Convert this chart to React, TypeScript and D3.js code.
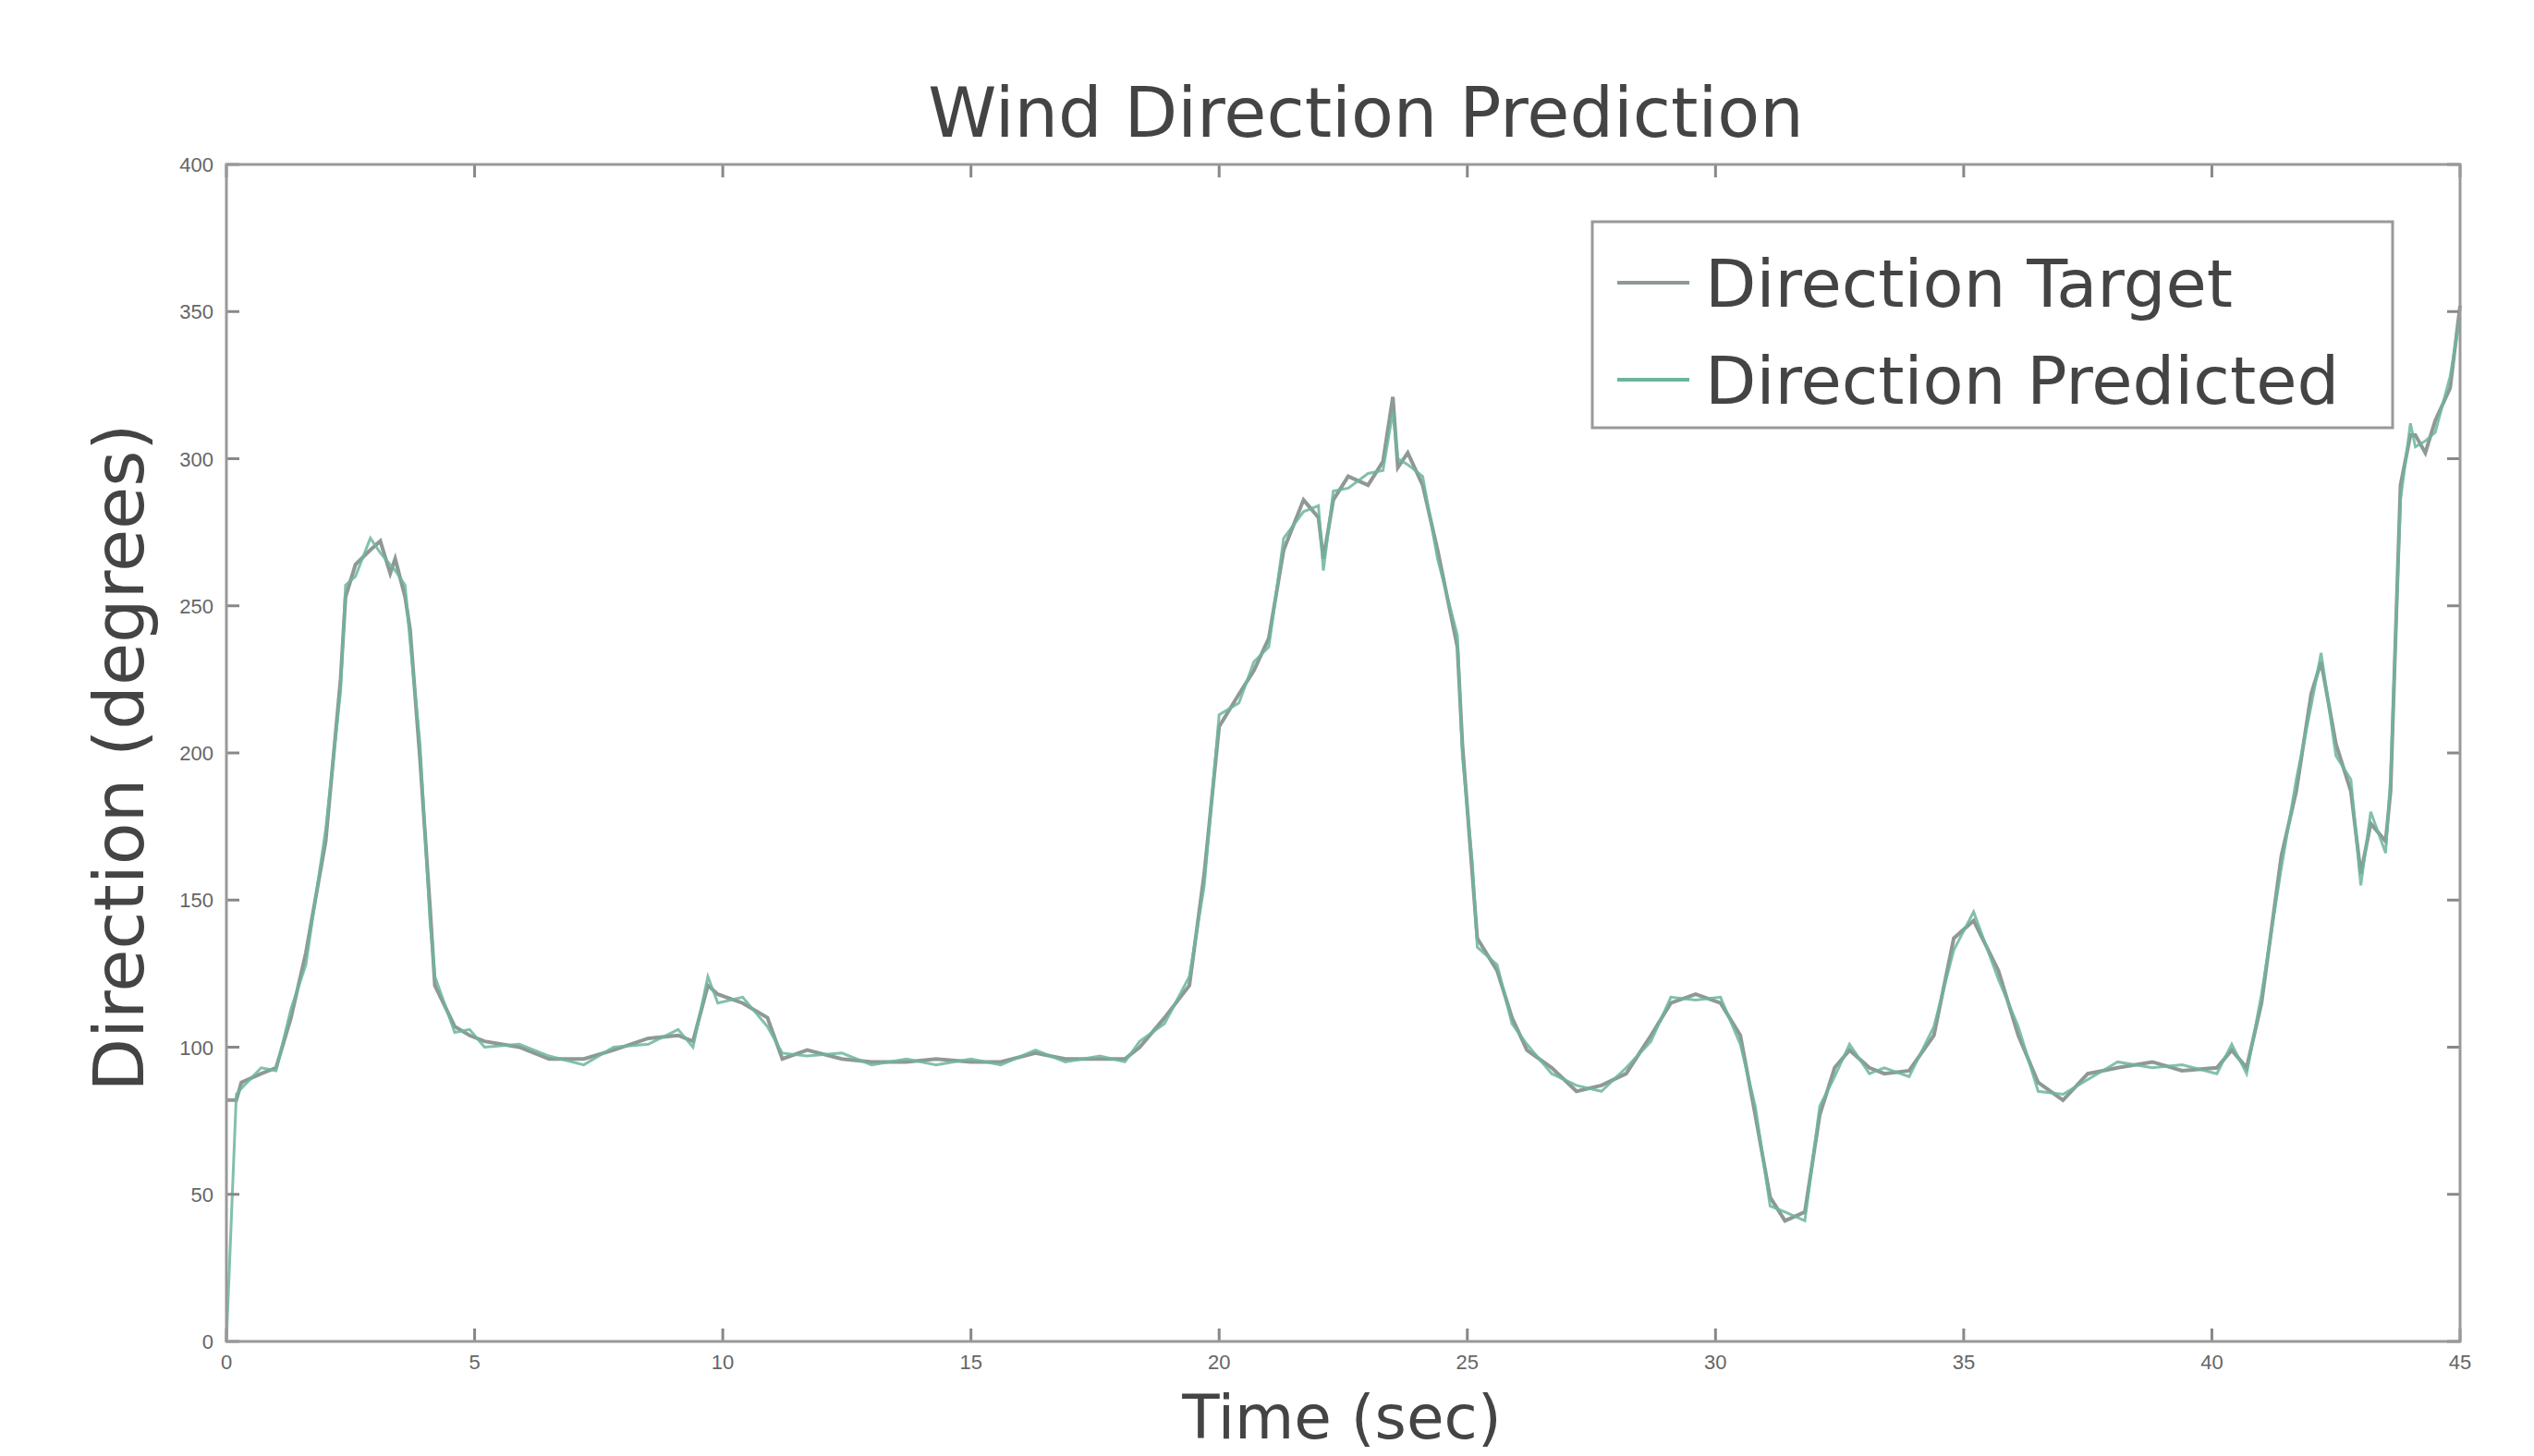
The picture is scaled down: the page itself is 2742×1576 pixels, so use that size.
import React from "react";
import * as d3 from "d3";

const times = [
  0, 0.2, 0.3, 0.7, 1.0, 1.3, 1.6, 2.0, 2.3, 2.4, 2.6, 2.9, 3.1, 3.3, 3.4, 3.6, 3.7, 3.9, 4.1, 4.2,
  4.6, 4.9, 5.2, 5.9, 6.5, 7.2, 7.8, 8.5, 9.1, 9.4, 9.7, 9.9, 10.4, 10.9, 11.2, 11.7, 12.4, 13.0,
  13.7, 14.3, 15.0, 15.6, 16.3, 16.9, 17.6, 18.1, 18.4, 18.9, 19.4, 19.7, 20.0, 20.4, 20.7, 21.0,
  21.3, 21.7, 22.0, 22.1, 22.3, 22.6, 23.0, 23.3, 23.5, 23.6, 23.8, 24.1, 24.4, 24.8, 24.9, 25.1,
  25.2, 25.6, 25.9, 26.2, 26.7, 27.2, 27.7, 28.2, 28.7, 29.1, 29.6, 30.1, 30.5, 30.8, 31.1, 31.4,
  31.8, 32.1, 32.4, 32.7, 33.1, 33.4, 33.9, 34.4, 34.8, 35.2, 35.7, 36.1, 36.5, 37.0, 37.5, 38.1,
  38.8, 39.4, 40.1, 40.4, 40.7, 41.0, 41.4, 41.7, 42.0, 42.2, 42.5, 42.8, 43.0, 43.2, 43.5, 43.6,
  43.8, 44.0, 44.1, 44.3, 44.5, 44.8, 45.0,
];

const target = [
  82, 82, 88, 91, 93, 110, 132, 170, 225, 253, 264, 269, 272, 261, 266, 253, 242, 198, 148, 121,
  107, 104, 102, 100, 96, 96, 99, 103, 104, 102, 121, 118, 115, 110, 96, 99, 96, 95,
  95, 96, 95, 95, 98, 96, 96, 96, 100, 110, 121, 159, 209, 220, 228, 239,
  269, 286, 280, 266, 286, 294, 291, 299, 321, 297, 302, 291, 269, 236, 203, 159,
  137, 126, 110, 99, 93, 85, 87, 91, 104, 115, 118, 115, 104, 77, 49, 41,
  44, 77, 93, 99, 93, 91, 92, 104, 137, 143, 126, 104, 88, 82, 91, 93,
  95, 92, 93, 99, 93, 115, 165, 187, 220, 231, 203, 187, 159, 176, 170, 187,
  291, 308, 308, 302, 313, 324, 352,
];

const predicted = [
  0, 84, 86, 93, 92, 113, 128, 174, 221, 257, 260, 273, 268, 264, 262, 257, 238, 203, 143, 124,
  105, 106, 100, 101, 97, 94, 100, 101, 106, 100, 124, 115, 117, 107, 98, 97, 98, 94,
  96, 94, 96, 94, 99, 95, 97, 95, 102, 108, 124, 155, 213, 217, 231, 236,
  273, 282, 284, 262, 289, 290, 295, 296, 316, 300, 298, 294, 266, 240, 199, 163,
  134, 128, 108, 101, 91, 87, 85, 93, 102, 117, 116, 117, 101, 80, 46, 44,
  41, 80, 90, 101, 91, 93, 90, 107, 133, 146, 123, 107, 85, 84, 89, 95,
  93, 94, 91, 101, 91, 118, 161, 191, 216, 234, 199, 191, 155, 180, 166, 192,
  286, 312, 304, 306, 309, 328, 348,
];

const xTicks = [0, 5, 10, 15, 20, 25, 30, 35, 40, 45];
const yTicks = [0, 50, 100, 150, 200, 250, 300, 350, 400];

const seriesNames = ["Direction Target", "Direction Predicted"];
const seriesColors = ["#8e9995", "#6cb59b"];

const W = 2742;
const H = 1576;
const margin = { left: 245, right: 80, top: 178, bottom: 124 };
const font = "'DejaVu Sans', Verdana, sans-serif";
const smallFont = "'Liberation Sans', Arial, sans-serif";

export default function App() {
  const x = d3.scaleLinear().domain([0, 45]).range([margin.left, W - margin.right]);
  const y = d3.scaleLinear().domain([0, 400]).range([H - margin.bottom, margin.top]);

  const line = d3
    .line<number>()
    .x((_, i) => x(times[i]))
    .y((d) => y(d));

  const x0 = x(0), x1 = x(45), y0 = y(0), y1 = y(400);
  const tl = 14; // tick length

  return (
    <svg
      width={W}
      height={H}
      style={{ position: "absolute", left: 0, top: 0, background: "#fff" }}
      fontFamily={font}
    >
      <rect x={0} y={0} width={W} height={H} fill="#fff" />

      {/* title */}
      <text x={1478} y={148} textAnchor="middle" fontSize={75} fill="#444">
        Wind Direction Prediction
      </text>

      {/* data lines */}
      <path d={line(target) || ""} fill="none" stroke={seriesColors[0]} strokeWidth={4} />
      <path d={line(predicted) || ""} fill="none" stroke={seriesColors[1]} strokeWidth={3} opacity={0.85} />

      {/* ticks */}
      {xTicks.map((t) => (
        <g key={"x" + t}>
          <line x1={x(t)} x2={x(t)} y1={y0} y2={y0 - tl} stroke="#888" strokeWidth={3} />
          <line x1={x(t)} x2={x(t)} y1={y1} y2={y1 + tl} stroke="#888" strokeWidth={3} />
          <text x={x(t)} y={y0 + 30} textAnchor="middle" fontSize={22} fill="#666" fontFamily={smallFont}>
            {t}
          </text>
        </g>
      ))}
      {yTicks.map((t) => (
        <g key={"y" + t}>
          <line x1={x0} x2={x0 + tl} y1={y(t)} y2={y(t)} stroke="#888" strokeWidth={3} />
          <line x1={x1} x2={x1 - tl} y1={y(t)} y2={y(t)} stroke="#888" strokeWidth={3} />
          <text x={x0 - 14} y={y(t) + 8} textAnchor="end" fontSize={22} fill="#666" fontFamily={smallFont}>
            {t}
          </text>
        </g>
      ))}

      {/* frame */}
      <rect x={x0} y={y1} width={x1 - x0} height={y0 - y1} fill="none" stroke="#999" strokeWidth={3} />

      {/* axis labels */}
      <text x={1452} y={1557} textAnchor="middle" fontSize={66} fill="#444">
        Time (sec)
      </text>
      <text
        transform={`translate(${155},${820}) rotate(-90)`}
        textAnchor="middle"
        fontSize={75}
        fill="#444"
      >
        Direction (degrees)
      </text>

      {/* legend */}
      <g transform="translate(1723,240)">
        <rect width={866} height={223} fill="#fff" stroke="#999" strokeWidth={3} />
        {seriesNames.map((n, i) => (
          <g key={n} transform={`translate(0,${66 + i * 105})`}>
            <line x1={27} x2={105} y1={0} y2={0} stroke={seriesColors[i]} strokeWidth={4} />
            <text x={122} y={26} fontSize={72} fill="#444">
              {n}
            </text>
          </g>
        ))}
      </g>
    </svg>
  );
}
